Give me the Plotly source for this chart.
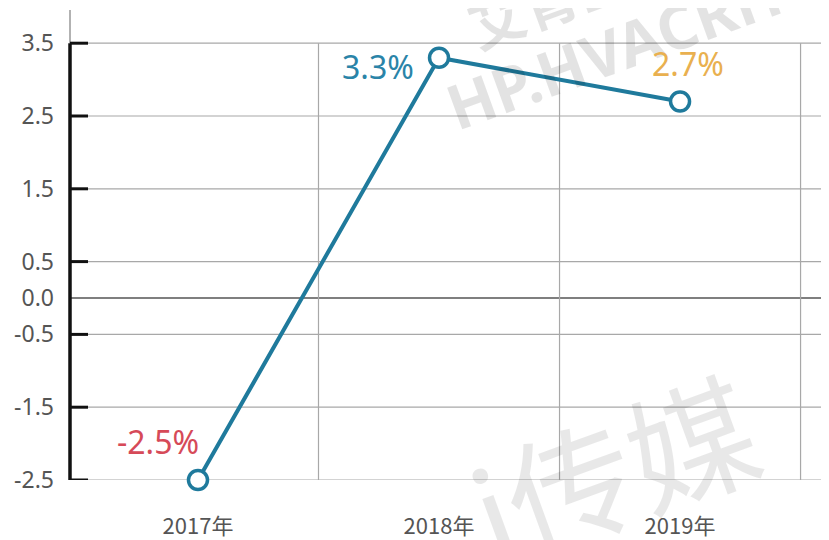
import plotly.graph_objects as go

categories = ["2017年", "2018年", "2019年"]
values = [-2.5, 3.3, 2.7]
value_labels = ["-2.5%", "3.3%", "2.7%"]
label_colors = ["#d64a58", "#2a84a8", "#e9b04f"]
ytick_vals = [3.5, 2.5, 1.5, 0.5, 0.0, -0.5, -1.5, -2.5]
ytick_text = ["3.5", "2.5", "1.5", "0.5", "0.0", "-0.5", "-1.5", "-2.5"]
major_ticks = [3.5, 2.5, 1.5, 0.5, -0.5, -1.5, -2.5]

line_color = "#1f7a9c"
xs = list(range(len(categories)))

# page has 8px body margin; plot area spans page x 70..829, y 10..480
W, H = 821, 532
L, R, T, B = 62, 0, 2, 60
plot_w = W - L - R
plot_h = H - T - B


def px_to_paper(px, py):
    # page pixel -> paper coords
    return (px - 8 - L) / plot_w, (H - B - (py - 8)) / plot_h


fig = go.Figure()
fig.add_trace(go.Scatter(
    x=xs, y=values, mode="lines+markers",
    line=dict(color=line_color, width=4),
    marker=dict(size=19, color="white", line=dict(color=line_color, width=3.5)),
    cliponaxis=False, hoverinfo="skip", showlegend=False,
))

shapes = []
for v in ytick_vals:
    shapes.append(dict(type="line", xref="paper", x0=0, x1=1, yref="y", y0=v, y1=v,
                       line=dict(color="#555555" if v == 0 else "#a8a8a8", width=1.5 if v == 0 else 1.2),
                       layer="below"))
for b in [0.5, 1.5, 2.5]:
    shapes.append(dict(type="line", xref="x", x0=b, x1=b, yref="y", y0=min(ytick_vals), y1=max(ytick_vals),
                       line=dict(color="#a8a8a8", width=1.2), layer="below"))
shapes.append(dict(type="line", xref="paper", x0=0, x1=0, yref="y", y0=max(ytick_vals), y1=3.956,
                   line=dict(color="#999999", width=1.5)))
shapes.append(dict(type="line", xref="paper", x0=0, x1=0, yref="y", y0=min(ytick_vals), y1=max(ytick_vals),
                   line=dict(color="#111111", width=3.5)))
for v in major_ticks:
    shapes.append(dict(type="line", xref="paper", x0=0, x1=18 / plot_w, yref="y", y0=v, y1=v,
                       line=dict(color="#111111", width=3)))

annotations = []
# faint watermark
wx, wy = px_to_paper(632, 42)
annotations.append(dict(x=wx, y=wy, xref="paper", yref="paper", xanchor="center", yanchor="middle",
                        text="<b>HP.HVACRHC</b>", showarrow=False, textangle=-20,
                        font=dict(size=62, color="rgba(0,0,0,0.11)", family="Noto Sans")))
wx, wy = px_to_paper(575, -12)
annotations.append(dict(x=wx, y=wy, xref="paper", yref="paper", xanchor="center", yanchor="middle",
                        text="<b>艾肯空调</b>", showarrow=False, textangle=-20,
                        font=dict(size=56, color="rgba(0,0,0,0.11)", family="Noto Sans CJK SC")))
wx, wy = px_to_paper(612, 466)
annotations.append(dict(x=wx, y=wy, xref="paper", yref="paper", xanchor="center", yanchor="middle",
                        text="i传媒", showarrow=False, textangle=-20,
                        font=dict(size=128, color="rgba(0,0,0,0.09)", family="Noto Sans CJK SC")))

shifts = [(-40, 39), (-61, -9), (8, 38)]
for x, y, t, c, (dx, dy) in zip(xs, values, value_labels, label_colors, shifts):
    annotations.append(dict(x=x, y=y, xref="x", yref="y", text=t, showarrow=False,
                            xshift=dx, yshift=dy, font=dict(size=32, color=c, family="Noto Sans")))

fig.update_layout(
    width=W, height=H,
    margin=dict(l=L, r=R, t=T, b=B),
    paper_bgcolor="white", plot_bgcolor="white",
    shapes=shapes, annotations=annotations,
    xaxis=dict(range=[-0.531, 2.618], tickvals=xs, ticktext=categories, showgrid=False, zeroline=False,
               showline=False, ticks="", ticklabelstandoff=31,
               tickfont=dict(size=22, color="#555555", family="Noto Sans CJK SC")),
    yaxis=dict(range=[-2.5, 3.956], tickvals=ytick_vals, ticktext=ytick_text, showgrid=False, zeroline=False,
               showline=False, ticks="", ticklabelstandoff=15,
               tickfont=dict(size=23, color="#555555", family="Noto Sans")),
)

fig.write_html("out.html")
